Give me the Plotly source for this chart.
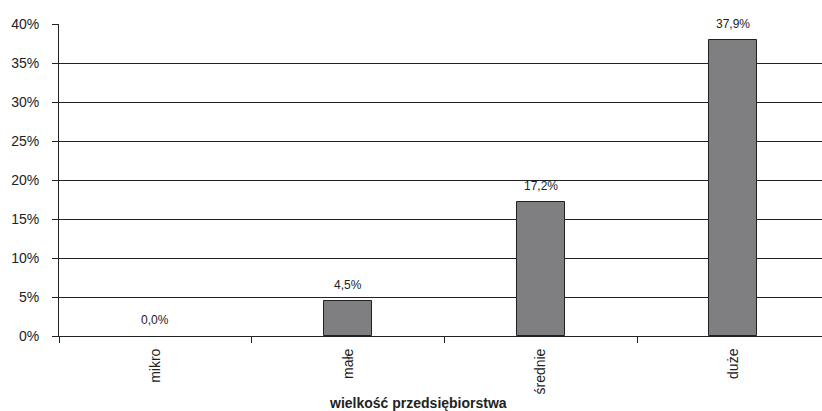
import plotly.graph_objects as go

categories = ["mikro", "małe", "średnie", "duże"]
shares = [0.0, 4.5, 17.2, 37.9]
y_ticks = [0, 5, 10, 15, 20, 25, 30, 35, 40]
y_tick_labels = [f"{v}%" for v in y_ticks]

FONT = "Liberation Sans, Arial, sans-serif"
INK = "#222222"

fig = go.Figure(
    go.Bar(
        x=categories,
        y=shares,
        width=0.25,
        marker=dict(
            color="#7f7f82",
            # no outline for empty bars so a zero value leaves no mark
            line=dict(color=INK, width=[1 if v > 0 else 0 for v in shares]),
        ),
        hoverinfo="x+y",
    )
)

# value labels above each bar
for cat, v in zip(categories, shares):
    fig.add_annotation(
        x=cat,
        y=v,
        text=f"{v:.1f}%".replace(".", ","),
        showarrow=False,
        yanchor="bottom",
        yshift=7,
        font=dict(family=FONT, size=12, color=INK),
    )

fig.update_layout(
    width=822,
    height=411,
    margin=dict(l=59, r=0, t=24, b=75),
    paper_bgcolor="white",
    plot_bgcolor="white",
    showlegend=False,
    bargap=0,
    font=dict(family=FONT, size=14, color=INK),
)

fig.update_xaxes(
    type="category",
    range=[-0.5, 3.46],
    tickson="boundaries",
    ticks="outside",
    ticklen=6,
    tickcolor=INK,
    tickangle=-90,
    ticklabelstandoff=6,
    tickfont=dict(family=FONT, size=14, color=INK),
    showline=True,
    linecolor=INK,
    linewidth=1,
    showgrid=False,
)

fig.update_yaxes(
    range=[0, 40],
    tickvals=y_ticks,
    ticktext=y_tick_labels,
    ticks="outside",
    ticklen=6,
    tickcolor=INK,
    ticklabelstandoff=10,
    tickfont=dict(family=FONT, size=14, color=INK),
    showline=True,
    linecolor=INK,
    linewidth=1,
    showgrid=True,
    gridcolor=INK,
    gridwidth=1,
    zeroline=False,
)

fig.add_annotation(
    text="<b>wielkość przedsiębiorstwa</b>",
    xref="paper",
    yref="paper",
    x=0.471,
    y=0,
    yanchor="middle",
    yshift=-67,
    showarrow=False,
    font=dict(family=FONT, size=14, color=INK),
)

fig.write_html("out.html")
